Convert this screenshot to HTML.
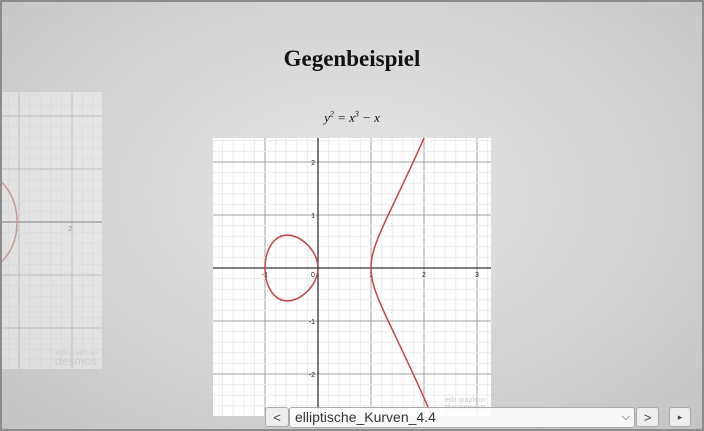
<!DOCTYPE html>
<html><head><meta charset="utf-8"><style>
html,body{margin:0;padding:0;overflow:hidden}
body{width:704px;height:431px;overflow:hidden;position:relative;font-family:"Liberation Sans",sans-serif}
svg{overflow:hidden}
#frame{position:absolute;left:0;top:0;width:700px;height:427px;border:2px solid #8c8c8c;background:radial-gradient(ellipse at 50% 45%,#e6e6e6 0%,#d8d8d8 45%,#c4c4c4 100%);overflow:hidden}
#title{position:absolute;left:0;width:704px;top:46px;text-align:center;font:bold 23px "Liberation Serif",serif;color:#111}
#formula{position:absolute;left:0;width:704px;top:110px;text-align:center;font:italic 13px "Liberation Serif",serif;color:#111;line-height:16px}
.btn{position:absolute;top:407px;height:20px;border:1px solid #aaa;border-radius:3px;background:#eee;font-size:13px;color:#444;text-align:center;line-height:19px;box-sizing:border-box}
#sel{position:absolute;left:289px;top:407px;width:346px;height:21px;border:1px solid #aaa;border-radius:3px;background:rgba(255,255,255,0.85);font-size:14px;color:#333;line-height:19px;padding-left:5px;box-sizing:border-box}
</style></head><body>
<div id="frame"></div>
<svg id="ghost" style="position:absolute;left:2px;top:92px;opacity:0.4" width="100" height="277"></svg>
<div id="title">Gegenbeispiel</div>
<div id="formula">y<sup style="font-size:8px;line-height:0">2</sup> = x<sup style="font-size:8px;line-height:0">3</sup> − x</div>
<svg id="plot" style="position:absolute;left:213px;top:138px" width="278" height="278"></svg>
<div class="btn" style="left:265px;width:24px">&lt;</div>
<div id="sel">elliptische_Kurven_4.4<span style="position:absolute;right:4px;top:0;font-size:11px">&#x2335;</span></div>
<div class="btn" style="left:636px;width:23px">&gt;</div>
<div class="btn" style="left:669px;width:22px;font-size:9px">&#9656;</div>
<script>
const xTicks=[-1,0,1,2,3];
const yTicks=[2,1,-1,-2];
const curveA=[-1]; // y^2 = x^3 + a x + b
const curveB=[0];
const NS="http://www.w3.org/2000/svg";
function mk(p,t,a){const e=document.createElementNS(NS,t);for(const k in a)e.setAttribute(k,a[k]);p.appendChild(e);return e;}
function grid(svg,W,H,ox,oy,u){
  mk(svg,'rect',{x:0,y:0,width:W,height:H,fill:'#fff'});
  const xmin=-ox/u,xmax=(W-ox)/u,ymin=-(H-oy)/u,ymax=oy/u;
  for(let i=Math.ceil(xmin*5);i<=xmax*5;i++){const X=ox+i*u/5;mk(svg,'line',{x1:X,y1:0,x2:X,y2:H,stroke:i%5?'#ececec':'#a0a0a0','stroke-width':1});}
  for(let i=Math.ceil(ymin*5);i<=ymax*5;i++){const Y=oy-i*u/5;mk(svg,'line',{x1:0,y1:Y,x2:W,y2:Y,stroke:i%5?'#ececec':'#a0a0a0','stroke-width':1});}
  mk(svg,'line',{x1:ox,y1:0,x2:ox,y2:H,stroke:'#333','stroke-width':1.3});
  mk(svg,'line',{x1:0,y1:oy,x2:W,y2:oy,stroke:'#333','stroke-width':1.3});
  const w1=mk(svg,'text',{x:W-5,y:H-14,'font-size':7,'text-anchor':'end',fill:'#ccc','font-family':'Liberation Sans'});w1.textContent='edit graph on';
  
  
  const w2=mk(svg,'text',{x:W-5,y:H-4,'font-size':12,'text-anchor':'end',fill:'#ccc','font-family':'Liberation Sans'});w2.textContent='desmos';
  
  
}
function draw(svg,W,H,ox,oy,u){
  grid(svg,W,H,ox,oy,u);
  const xmin=-ox/u,xmax=(W-ox)/u,ymax=oy/u+0.2,ymin=-(H-oy)/u-0.2;
  xTicks.forEach(v=>{const t=mk(svg,'text',{x:ox+v*u+(v===0?-5:0),y:oy+9,'font-size':7,'text-anchor':'middle',fill:'#222','font-family':'Liberation Sans'});t.textContent=v;
    
    });
  yTicks.forEach(v=>{const t=mk(svg,'text',{x:ox-3,y:oy-v*u+3,'font-size':7,'text-anchor':'end',fill:'#222','font-family':'Liberation Sans'});t.textContent=v;
    
    });
  const a=curveA[0],b=curveB[0];
  const f=x=>x*x*x+a*x+b;
  const segs=[];let cur=null;
  for(let x=xmin-1;x<=xmax+0.01;x+=0.002){const v=f(x);if(v>=0&&Math.sqrt(v)<Math.max(ymax,-ymin)){if(!cur){cur=[];segs.push(cur);}cur.push([x,Math.sqrt(v)]);}else cur=null;}
  segs.forEach(s=>{
    const up=s.map(p=>[ox+p[0]*u,oy-p[1]*u]);const dn=s.map(p=>[ox+p[0]*u,oy+p[1]*u]).reverse();
    const pts=dn.concat(up);
    let d=pts.map((p,i)=>(i?'L':'M')+p[0].toFixed(1)+' '+p[1].toFixed(1)).join('');
    const pth=mk(svg,'path',{d:d,fill:'none',stroke:'#c74440','stroke-width':1.5});
    
    
  });
}
draw(document.getElementById('plot'),278,278,105,130,53);
const g=document.getElementById('ghost');
grid(g,100,277,-36,130,53);
const gt=mk(g,'text',{x:68,y:139,'font-size':7,'text-anchor':'middle',fill:'#444','font-family':'Liberation Sans'});gt.textContent='2';
const gt1=mk(g,'text',{x:15,y:139,'font-size':7,'text-anchor':'middle',fill:'#444','font-family':'Liberation Sans'});gt1.textContent='1';
const ge=mk(g,'ellipse',{cx:-20,cy:130,rx:35,ry:48,fill:'none',stroke:'#c74440','stroke-width':1.5});


</script>
</body></html>
